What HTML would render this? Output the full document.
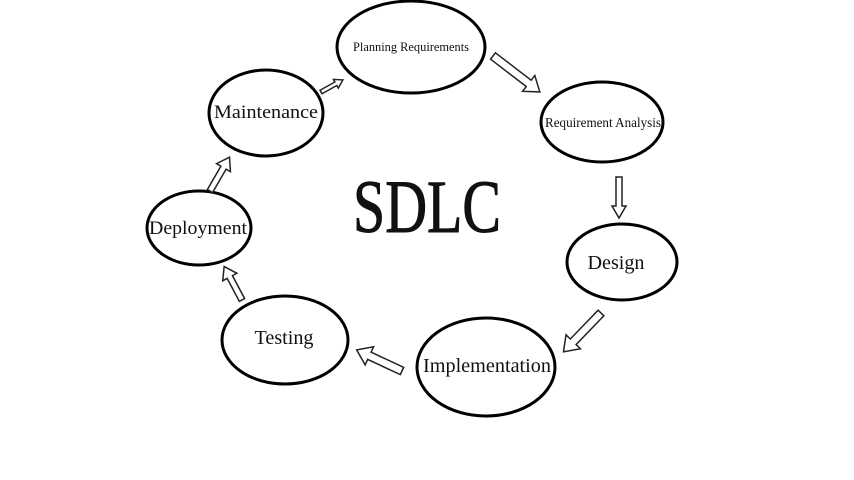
<!DOCTYPE html>
<html><head><meta charset="utf-8"><style>
html,body{margin:0;padding:0;background:#fff;width:854px;height:480px;overflow:hidden}
svg{display:block}
text{font-family:"Liberation Serif",serif;fill:#111}
</style></head><body>
<svg width="854" height="480" viewBox="0 0 854 480" xmlns="http://www.w3.org/2000/svg">
<g fill="none" stroke="#000" stroke-width="3">
<ellipse cx="411" cy="47" rx="74" ry="46"/>
<ellipse cx="602" cy="122" rx="61" ry="40"/>
<ellipse cx="622" cy="262" rx="55" ry="38"/>
<ellipse cx="486" cy="367" rx="69" ry="49"/>
<ellipse cx="285" cy="340" rx="63" ry="44"/>
<ellipse cx="199" cy="228" rx="52" ry="37"/>
<ellipse cx="266" cy="113" rx="57" ry="43"/>
</g>
<g fill="#fff" stroke="#222" stroke-width="1.5">
<polygon transform="translate(493,56) rotate(37.5)" points="0,-4 45,-4 45,-10 59,0 45,10 45,4 0,4"/>
<polygon transform="translate(619,177) rotate(90)" points="0,-3 29,-3 29,-7 41,0 29,7 29,3 0,3"/>
<polygon transform="translate(601,313) rotate(134)" points="0,-4 40,-4 40,-10 54,0 40,10 40,4 0,4"/>
<polygon transform="translate(402,371) rotate(205)" points="0,-4 36,-4 36,-10 50,0 36,10 36,4 0,4"/>
<polygon transform="translate(242,300) rotate(242)" points="0,-3 26,-3 26,-8 38,0 26,8 26,3 0,3"/>
<polygon transform="translate(210,191) rotate(300)" points="0,-3 27,-3 27,-8 39,0 27,8 27,3 0,3"/>
<polygon transform="translate(321,92) rotate(331)" points="0,-2 17,-2 17,-5 25,0 17,5 17,2 0,2"/>
</g>
<text x="411" y="51" font-size="13" text-anchor="middle" textLength="116" lengthAdjust="spacingAndGlyphs">Planning Requirements</text>
<text x="603" y="127" font-size="14" text-anchor="middle" textLength="116" lengthAdjust="spacingAndGlyphs">Requirement Analysis</text>
<text x="616" y="269" font-size="20" text-anchor="middle" textLength="57" lengthAdjust="spacingAndGlyphs">Design</text>
<text x="487" y="372" font-size="20" text-anchor="middle" textLength="128" lengthAdjust="spacingAndGlyphs">Implementation</text>
<text x="284" y="344" font-size="20" text-anchor="middle" textLength="59" lengthAdjust="spacingAndGlyphs">Testing</text>
<text x="198" y="234" font-size="19" text-anchor="middle" textLength="98" lengthAdjust="spacingAndGlyphs">Deployment</text>
<text x="266" y="118" font-size="19" text-anchor="middle" textLength="104" lengthAdjust="spacingAndGlyphs">Maintenance</text>
<text x="353" y="232" font-size="75" textLength="148" lengthAdjust="spacingAndGlyphs" stroke="#111" stroke-width="1">SDLC</text>
</svg>
</body></html>
